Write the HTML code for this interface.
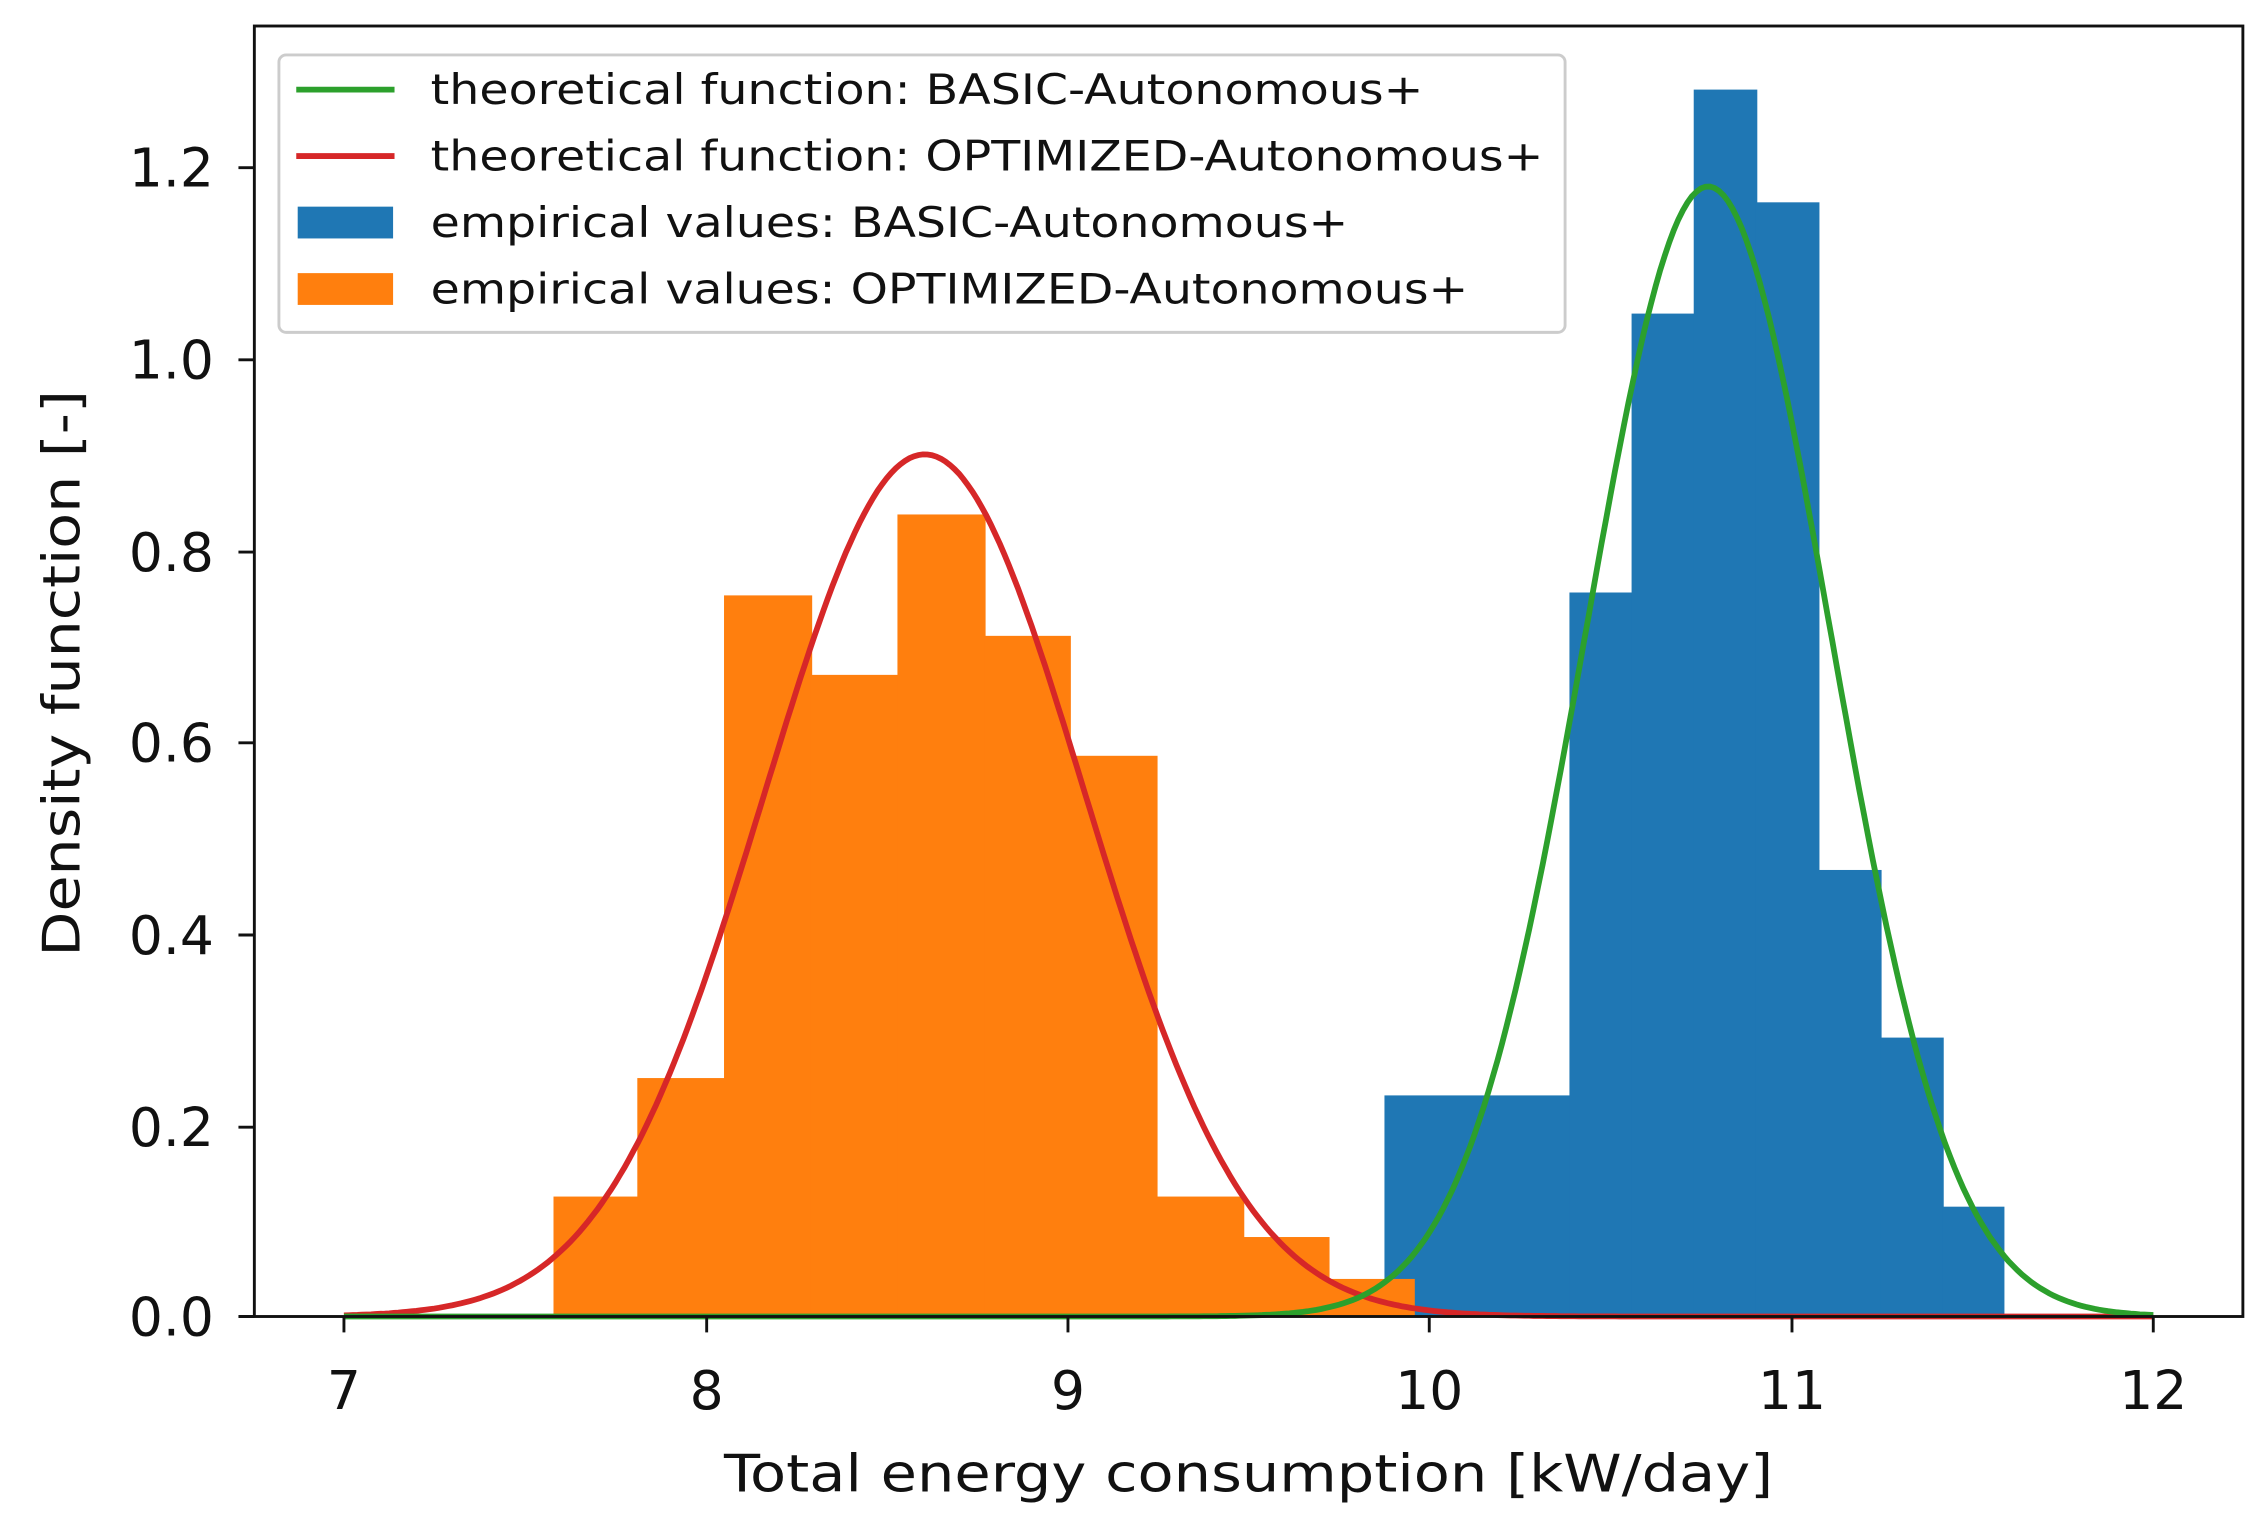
<!DOCTYPE html>
<html><head><meta charset="utf-8"><style>
html,body{margin:0;padding:0;background:#fff}
svg{display:block}
text{font-family:"DejaVu Sans","Liberation Sans",sans-serif;fill:#111}
</style></head><body>
<svg id="s" width="2266" height="1522" viewBox="0 0 1568 1053.2" preserveAspectRatio="none" xmlns="http://www.w3.org/2000/svg">
<rect width="1568" height="1054" fill="#fff"/>
<g fill="#1f77b4">
<rect x="958" y="758" width="129" height="153"/>
<rect x="1086" y="410" width="44" height="501"/>
<rect x="1129" y="217" width="44" height="694"/>
<rect x="1172" y="62" width="44" height="849"/>
<rect x="1215" y="140" width="44" height="771"/>
<rect x="1258" y="602" width="44" height="309"/>
<rect x="1301" y="718" width="44" height="193"/>
<rect x="1344" y="835" width="43" height="76"/>
</g>
<g fill="#ff7f0e">
<rect x="383" y="828" width="59" height="83"/>
<rect x="441" y="746" width="61" height="165"/>
<rect x="501" y="412" width="61" height="499"/>
<rect x="561" y="467" width="61" height="444"/>
<rect x="621" y="356" width="61" height="555"/>
<rect x="681" y="440" width="60" height="471"/>
<rect x="740" y="523" width="61" height="388"/>
<rect x="800" y="828" width="61" height="83"/>
<rect x="860" y="856" width="60" height="55"/>
<rect x="919" y="885" width="60" height="26"/>
</g>
<path id="red" fill="none" stroke="#d62728" stroke-width="4"/>
<path id="green" fill="none" stroke="#2ca02c" stroke-width="4"/>
<rect x="176" y="18" width="1376" height="893" fill="none" stroke="#111" stroke-width="2"/>
<g stroke="#111" stroke-width="2">
<line x1="238" y1="911" x2="238" y2="922"/><line x1="489" y1="911" x2="489" y2="922"/>
<line x1="739" y1="911" x2="739" y2="922"/><line x1="989" y1="911" x2="989" y2="922"/>
<line x1="1240" y1="911" x2="1240" y2="922"/><line x1="1490" y1="911" x2="1490" y2="922"/>
<line x1="165" y1="911" x2="176" y2="911"/><line x1="165" y1="780" x2="176" y2="780"/>
<line x1="165" y1="647" x2="176" y2="647"/><line x1="165" y1="514" x2="176" y2="514"/>
<line x1="165" y1="382" x2="176" y2="382"/><line x1="165" y1="249" x2="176" y2="249"/>
<line x1="165" y1="116" x2="176" y2="116"/>
</g>
<g font-size="37" text-anchor="middle">
<text x="238" y="975">7</text><text x="489" y="975">8</text><text x="739" y="975">9</text>
<text x="989" y="975">10</text><text x="1240" y="975">11</text><text x="1490" y="975">12</text>
</g>
<g font-size="37" text-anchor="end">
<text x="148" y="924">0.0</text><text x="148" y="793">0.2</text><text x="148" y="660">0.4</text>
<text x="148" y="527">0.6</text><text x="148" y="395">0.8</text><text x="148" y="262">1.0</text>
<text x="148" y="129">1.2</text>
</g>
<text x="864" y="1032" font-size="36" text-anchor="middle" textLength="726" lengthAdjust="spacingAndGlyphs">Total energy consumption [kW/day]</text>
<text transform="translate(55,466) rotate(-90)" font-size="36" text-anchor="middle" textLength="392" lengthAdjust="spacingAndGlyphs">Density function [-]</text>
<rect x="193" y="38" width="890" height="192" rx="5" fill="#fff" fill-opacity="0.8" stroke="#ccc" stroke-width="2"/>
<line x1="205" y1="62" x2="273" y2="62" stroke="#2ca02c" stroke-width="4"/>
<line x1="205" y1="108" x2="273" y2="108" stroke="#d62728" stroke-width="4"/>
<rect x="206" y="143" width="66" height="22" fill="#1f77b4"/>
<rect x="206" y="189" width="66" height="22" fill="#ff7f0e"/>
<g font-size="29">
<text x="298" y="72" textLength="687" lengthAdjust="spacingAndGlyphs">theoretical function: BASIC-Autonomous+</text>
<text x="298" y="118" textLength="770" lengthAdjust="spacingAndGlyphs">theoretical function: OPTIMIZED-Autonomous+</text>
<text x="298" y="164" textLength="635" lengthAdjust="spacingAndGlyphs">empirical values: BASIC-Autonomous+</text>
<text x="298" y="210" textLength="718" lengthAdjust="spacingAndGlyphs">empirical values: OPTIMIZED-Autonomous+</text>
</g>
</svg>
<script>
function g(mu,sd){var d="";for(var i=0;i<=400;i++){var v=7+5*i/400;var y=Math.exp(-0.5*Math.pow((v-mu)/sd,2))/(sd*Math.sqrt(2*Math.PI));var X=238+(v-7)*250.4,Y=911-y*662.5;d+=(i?"L":"M")+X.toFixed(1)+" "+Y.toFixed(1);}return d;}
document.getElementById("red").setAttribute("d",g(8.605,0.443));
document.getElementById("green").setAttribute("d",g(10.77,0.338));
</script>
</body></html>
